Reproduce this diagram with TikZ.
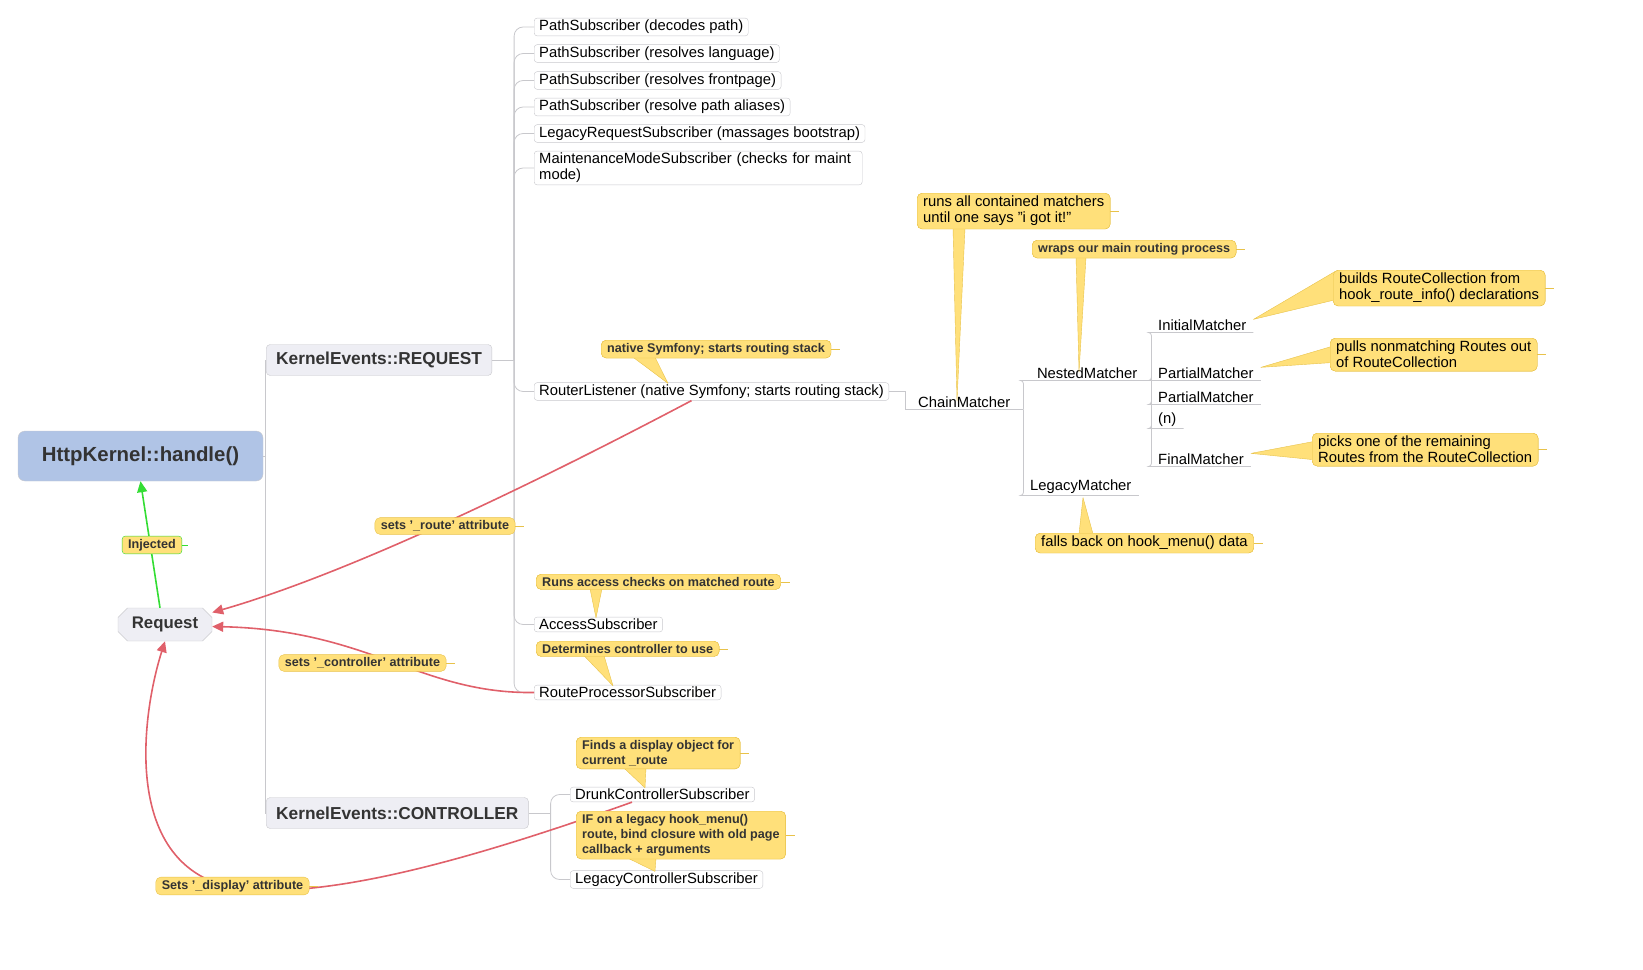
\documentclass[tikz,border=0pt]{standalone}
\usepackage{fontspec}
\setmainfont{Liberation Sans}
\usetikzlibrary{shapes.misc,arrows.meta,calc}
\definecolor{callY}{HTML}{FFE07A}
\definecolor{callB}{HTML}{E8C24A}
\definecolor{treeG}{HTML}{C8C8CC}
\definecolor{redA}{HTML}{E0606A}
\definecolor{greenA}{HTML}{33DD33}
\definecolor{kernF}{HTML}{B0C4E6}
\definecolor{evF}{HTML}{EEEEF4}
\definecolor{txt}{HTML}{333333}
\newcommand{\sq}{\char"27\relax}
\newcommand{\dq}{\char"22\relax}
\tikzset{
 x=1pt,y=-1pt,
 tree/.style={draw=treeG,line width=0.8pt},
 sub/.style={draw=treeG,rounded corners=3pt,fill=white,anchor=west,inner xsep=5pt,inner ysep=2pt,font=\fontsize{14.8}{16}\selectfont,align=left},
 ul/.style={anchor=south west,inner xsep=7pt,inner ysep=1.5pt,font=\fontsize{14.8}{16}\selectfont,text=black},
 ev/.style={draw=treeG,rounded corners=4pt,fill=evF,anchor=west,inner xsep=10pt,minimum height=31pt,font=\bfseries\fontsize{17.3}{19}\selectfont,text=txt},
 call/.style={fill=callY,draw=callB,rounded corners=5pt,anchor=north west,inner xsep=6pt,inner ysep=3pt,align=left,font=\fontsize{14.8}{16}\selectfont},
 callb/.style={call,font=\bfseries\fontsize{12.6}{15}\selectfont,text=txt},
 ptr/.style={fill=callY,draw=callB,line join=round},
 tick/.style={draw=callB,line width=0.6pt},
 red/.style={draw=redA,line width=1.6pt,-{Triangle[length=11pt,width=10pt]}},
}
\newcommand{\tk}[1]{\draw[tick] (#1.east) -- ++(9,0);}
\begin{document}
\begin{tikzpicture}
\useasboundingbox (0,0) rectangle (1643,969);
% main nodes
\node[draw=treeG,rounded corners=7pt,fill=kernF,minimum width=245pt,minimum height=50pt,font=\bfseries\fontsize{20.4}{23}\selectfont,text=txt] (kern) at (140.5,456) {HttpKernel::handle()};
\node[chamfered rectangle,chamfered rectangle xsep=6pt,draw=treeG,fill=evF,minimum width=94pt,minimum height=33pt,font=\bfseries\fontsize{16.8}{19}\selectfont,text=txt] (request) at (165,624.5) {Request};
\node[ev] (req) at (266,360) {KernelEvents::REQUEST};
\node[ev] (ctl) at (266,813) {KernelEvents::CONTROLLER};
\draw[tree] (kern.east) -- ++(2,0) coordinate (kj);
\draw[tree] (kj) |- (req.west);
\draw[tree] (kj) |- (ctl.west);
% REQUEST children
\node[sub] (s1) at (534,27) {PathSubscriber (decodes path)};
\node[sub] (s2) at (534,53.5) {PathSubscriber (resolves language)};
\node[sub] (s3) at (534,80.5) {PathSubscriber (resolves frontpage)};
\node[sub] (s4) at (534,107) {PathSubscriber (resolve path aliases)};
\node[sub] (s5) at (534,133.5) {LegacyRequestSubscriber (massages bootstrap)};
\node[sub,text width=318pt] (s6) at (534,168) {MaintenanceModeSubscriber (checks for maint\\mode)};
\node[sub] (rl) at (534,391.5) {RouterListener (native Symfony; starts routing stack)};
\node[sub] (acc) at (534,624.5) {AccessSubscriber};
\node[sub] (rps) at (534,692.5) {RouteProcessorSubscriber};
\draw[tree] (req.east) -- ++(22,0) coordinate (rj);
\foreach \n in {s1,s2,s3,s4,s5,s6,rl,acc,rps}{\draw[tree,rounded corners=9pt] (rj) |- (\n.west);}
% CONTROLLER children
\node[sub] (drunk) at (570,794.5) {DrunkControllerSubscriber};
\node[sub] (legc) at (570,879.5) {LegacyControllerSubscriber};
\draw[tree] (ctl.east) -- ++(22,0) coordinate (cj);
\foreach \n in {drunk,legc}{\draw[tree,rounded corners=9pt] (cj) |- (\n.west);}
% matchers
\node[ul,minimum width=118pt] (chain) at (905,409.5) {ChainMatcher};
\node[ul,minimum width=128pt] (nested) at (1023,380.5) {NestedMatcher};
\node[ul,minimum width=95pt] (legm) at (1023,495.5) {LegacyMatcher};
\node[ul] (im) at (1151,332.5) {InitialMatcher};
\node[ul] (pm1) at (1151,380.5) {PartialMatcher};
\node[ul] (pm2) at (1151,404.5) {PartialMatcher};
\node[ul] (nn) at (1151,428.5) {(n)};
\node[ul] (fm) at (1151,466.5) {FinalMatcher};
\draw[tree] (rl.east) -| (chain.south west) -- (chain.south east);
\draw[tree,rounded corners=3pt] (chain.south east) |- (nested.south west);
\draw[tree,rounded corners=3pt] (chain.south east) |- (legm.south west);
\draw[tree] (nested.south west) -- (nested.south east);
\draw[tree] (legm.south west) -- (legm.south east);
\foreach \n in {im,pm1,pm2,nn,fm}{\draw[tree,rounded corners=3pt] (nested.south east) |- (\n.south west) -- (\n.south east);}
% callouts with pointers
\node[call] (c1) at (917,193) {runs all contained matchers\\until one says \dq i got it!\dq};
\draw[ptr] ($(c1.south west)+(36,-1)$) -- ($(chain.north west)+(52,6)$) -- ($(c1.south west)+(48,-1)$);
\node[call] (c1) at (917,193) {runs all contained matchers\\until one says \dq i got it!\dq};\tk{c1}
\node[callb] (c2) at (1032,240) {wraps our main routing process};
\draw[ptr] ($(c2.south west)+(44,-1)$) -- ($(nested.north west)+(56,6)$) -- ($(c2.south west)+(54,-1)$);
\node[callb] (c2) at (1032,240) {wraps our main routing process};\tk{c2}
\node[call] (c3) at (1333,270) {builds RouteCollection from\\hook\_route\_info() declarations};
\draw[ptr] ($(c3.west)+(1,-16)$) -- ($(im.east)+(0,-6)$) -- ($(c3.west)+(1,12)$);
\node[call] (c3) at (1333,270) {builds RouteCollection from\\hook\_route\_info() declarations};\tk{c3}
\node[call] (c4) at (1330,338) {pulls nonmatching Routes out\\of RouteCollection};
\draw[ptr] ($(c4.west)+(1,-8)$) -- ($(pm1.east)+(0,-6)$) -- ($(c4.west)+(1,8)$);
\node[call] (c4) at (1330,338) {pulls nonmatching Routes out\\of RouteCollection};\tk{c4}
\node[call] (c5) at (1312,433) {picks one of the remaining\\Routes from the RouteCollection};
\draw[ptr] ($(c5.west)+(1,-8)$) -- ($(fm.east)+(0,-6)$) -- ($(c5.west)+(1,10)$);
\node[call] (c5) at (1312,433) {picks one of the remaining\\Routes from the RouteCollection};\tk{c5}
\node[call] (c6) at (1035,533) {falls back on hook\_menu() data};
\draw[ptr] ($(c6.north west)+(44,1)$) -- ($(legm.south west)+(60,2)$) -- ($(c6.north west)+(58,1)$);
\node[call] (c6) at (1035,533) {falls back on hook\_menu() data};\tk{c6}
\node[callb] (c7) at (601,340) {native Symfony; starts routing stack};
\draw[ptr] ($(c7.south west)+(32,-1)$) -- ($(rl.north west)+(134,1)$) -- ($(c7.south west)+(54,-1)$);
\node[callb] (c7) at (601,340) {native Symfony; starts routing stack};\tk{c7}
\node[callb] (c8) at (536,574) {Runs access checks on matched route};
\draw[ptr] ($(c8.south west)+(54,-1)$) -- ($(acc.north west)+(62,1)$) -- ($(c8.south west)+(66,-1)$);
\node[callb] (c8) at (536,574) {Runs access checks on matched route};\tk{c8}
\node[callb] (c9) at (536,641) {Determines controller to use};
\draw[ptr] ($(c9.south west)+(48,-1)$) -- ($(rps.north west)+(79,1)$) -- ($(c9.south west)+(68,-1)$);
\node[callb] (c9) at (536,641) {Determines controller to use};\tk{c9}
\node[callb] (c10) at (576,737) {Finds a display object for\\current \_route};
\draw[ptr] ($(c10.south west)+(48,-1)$) -- ($(drunk.north west)+(75,1)$) -- ($(c10.south west)+(70,-1)$);
% red connectors
\draw[red] ($(rl.south)+(-20,0)$) .. controls (560,470) and (360,570) .. ($(request.east)+(0,-12)$);
\draw[red] (rps.west) .. controls (420,694) and (370,630) .. ($(request.east)+(0,2)$);
\draw[red] ($(drunk.south west)+(62,0)$) .. controls (470,860) and (340,895) .. (250,890) .. controls (120,880) and (140,720) .. (request.south);
\draw[draw=greenA,line width=1.6pt,-{Triangle[length=11pt,width=10pt]}] ($(request.north)+(-5,0)$) -- (kern.south);
\node[callb] (c10) at (576,737) {Finds a display object for\\current \_route};\tk{c10}
\node[callb] (c11) at (576,811) {IF on a legacy hook\_menu()\\route, bind closure with old page\\callback + arguments};
\draw[ptr] ($(c11.south west)+(52,-1)$) -- ($(legc.north west)+(85,1)$) -- ($(c11.south west)+(80,-1)$);
\node[callb] (c11) at (576,811) {IF on a legacy hook\_menu()\\route, bind closure with old page\\callback + arguments};\tk{c11}
% labels on arrows
\node[callb,anchor=center] (l1) at (445,526) {sets \sq\_route\sq{} attribute};\tk{l1}
\node[callb,anchor=center] (l2) at (362.5,663) {sets \sq\_controller\sq{} attribute};\tk{l2}
\node[callb,anchor=center] (l3) at (232.5,886) {Sets \sq\_display\sq{} attribute};\tk{l3}
\node[callb,anchor=center,draw=greenA,rounded corners=3pt] (l4) at (152,545) {Injected};
\draw[greenA,line width=0.6pt] (l4.east) -- ++(6,0);
\end{tikzpicture}
\end{document}
